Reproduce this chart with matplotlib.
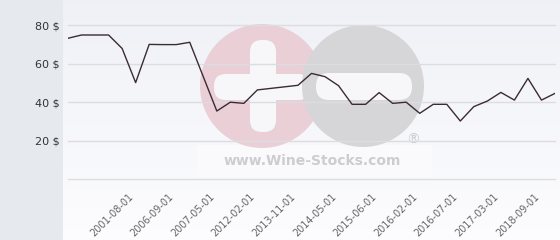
import matplotlib
matplotlib.use("Agg")
import matplotlib.pyplot as plt
import numpy as np
from matplotlib.patches import Circle, FancyBboxPatch, Rectangle
from matplotlib.transforms import ScaledTranslation

# price series, one point per listing (equally spaced)
prices = [73.3, 75, 75, 75, 68, 50.2, 70.1, 70, 70, 71.2, 53.3, 35.4, 40, 39.4,
          46.4, 47.2, 48.0, 48.8, 55, 53.3, 48.6, 38.9, 38.9, 45, 39.4, 40,
          34.2, 38.9, 38.9, 30.2, 37.7, 40.6, 45.1, 41.1, 52.4, 41.1, 44.6]
tick_idx = [4, 7, 10, 13, 16, 19, 22, 25, 28, 31, 34]
tick_labels = ["2001-08-01", "2006-09-01", "2007-05-01", "2012-02-01",
               "2013-11-01", "2014-05-01", "2015-06-01", "2016-02-01",
               "2016-07-01", "2017-03-01", "2018-09-01"]
y_ticks = [20, 40, 60, 80]
y_tick_labels = ["20 $", "40 $", "60 $", "80 $"]

W, H = 560, 240
fig = plt.figure(figsize=(W / 100, H / 100), dpi=100)

# background layer in pixel coordinates
bg = fig.add_axes([0, 0, 1, 1], zorder=0)
bg.set_xlim(0, W)
bg.set_ylim(H, 0)
bg.axis("off")
bg.add_patch(Rectangle((0, 0), 63, H, color="#e6eaee", lw=0))
grad = np.linspace(0, 1, 100).reshape(-1, 1)
c_top = np.array([0.94, 0.945, 0.965])
c_bot = np.array([0.99, 0.99, 1.0])
img = c_top + (c_bot - c_top) * grad[..., None]
img = np.repeat(img, 2, axis=1)
bg.imshow(img, extent=(63, W, H, 0), aspect="auto", interpolation="bilinear")

# watermark
bg.add_patch(Rectangle((197, 145), 235, 32, color="#fafafc", lw=0))
bg.add_patch(Circle((262, 86), 62, color="#eacfd7", lw=0))
bg.add_patch(FancyBboxPatch((250, 40), 26, 92, boxstyle="round,pad=0,rounding_size=12",
                            color="#f7f7fa", lw=0))
bg.add_patch(FancyBboxPatch((214, 74), 96, 26, boxstyle="round,pad=0,rounding_size=12",
                            color="#f7f7fa", lw=0))
bg.add_patch(Circle((363, 86), 61, color="#d6d6d8", lw=0))
bg.add_patch(FancyBboxPatch((316, 73), 96, 27, boxstyle="round,pad=0,rounding_size=13",
                            color="#f7f7fa", lw=0))
bg.text(312, 161, "www.Wine-Stocks.com", ha="center", va="center",
        fontsize=10, fontweight="bold", color="#cdcdcf")
bg.text(413, 140, "®", ha="center", va="center", fontsize=10, color="#cdcdcf")

# main chart
ax = fig.add_axes([68 / W, (H - 179) / H, (555 - 68) / W, 179 / H], zorder=1)
ax.patch.set_alpha(0)
x = np.arange(len(prices))
ax.set_xlim(0, len(prices) - 1)
ax.set_ylim(0, 179 / 1.92)
for v in [0] + y_ticks:
    ax.axhline(v, color="#dcdde0", lw=1, zorder=1, clip_on=False)
ax.plot(x, prices, color="#3b2b33", lw=1, zorder=3)

for s in ax.spines.values():
    s.set_visible(False)

ax.set_yticks(y_ticks)
ax.set_yticklabels(y_tick_labels, fontsize=8, color="#333333")
ax.tick_params(axis="y", length=0, pad=6)

ax.set_xticks(tick_idx)
ax.set_xticklabels(tick_labels, rotation=45, ha="right", va="top",
                   rotation_mode="anchor", fontsize=7, color="#666666")
ax.tick_params(axis="x", length=0, pad=9)
for lab in ax.get_xticklabels():
    lab.set_transform(lab.get_transform() + ScaledTranslation(6 / 100, 0, fig.dpi_scale_trans))

fig.savefig("out.png", dpi=100)
